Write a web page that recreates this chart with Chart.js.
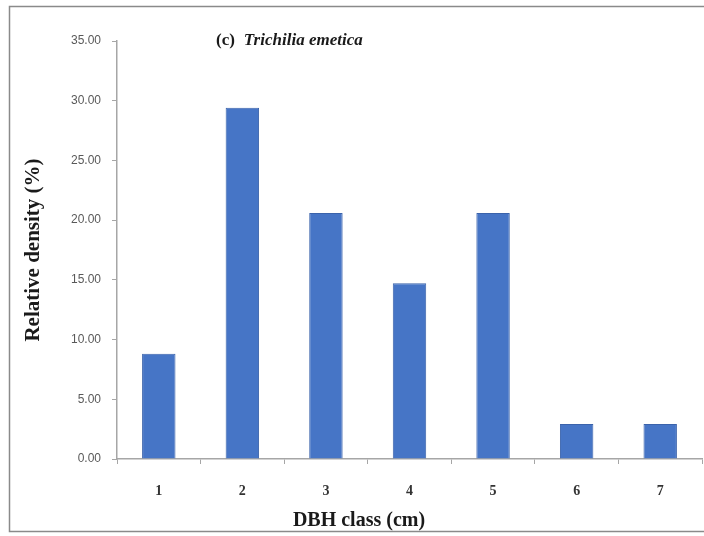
<!DOCTYPE html>
<html>
<head>
<meta charset="utf-8">
<script src="https://cdn.jsdelivr.net/npm/chart.js@4/dist/chart.umd.min.js"></script>
<style>
  html, body { margin: 0; padding: 0; background: #fff; }
  #wrap { width: 704px; height: 536px; position: relative; }
</style>
</head>
<body>
<div id="wrap"><canvas id="myChart" width="704" height="536"></canvas></div>
<script>
// DBH classes and relative density (%) for Trichilia emetica
const categories = ["1", "2", "3", "4", "5", "6", "7"];
const density = [8.82, 29.41, 20.59, 14.71, 20.59, 2.94, 2.94];
const yTicks = [0, 5, 10, 15, 20, 25, 30, 35];

const panelTitle = { tag: "(c)", species: "Trichilia emetica" };
const xTitle = "DBH class (cm)";
const yTitle = "Relative density (%)";

// frame, panel title and x-axis title drawn on the canvas
const extras = {
    id: "extras",
    afterDraw(chart) {
        const ctx = chart.ctx;
        ctx.save();
        ctx.strokeStyle = "#8a8a8a";
        ctx.lineWidth = 1.5;
        ctx.beginPath();
        ctx.moveTo(704, 6.5);
        ctx.lineTo(9.5, 6.5);
        ctx.lineTo(9.5, 531.5);
        ctx.lineTo(704, 531.5);
        ctx.stroke();

        ctx.fillStyle = "#1a1a1a";
        ctx.textBaseline = "middle";
        ctx.textAlign = "left";
        ctx.font = "bold 17px 'Liberation Serif'";
        ctx.fillText(panelTitle.tag, 216, 41);
        let w = ctx.measureText(panelTitle.tag).width;
        ctx.font = "italic bold 17px 'Liberation Serif'";
        ctx.fillText(panelTitle.species, 216 + w + 9, 41);

        ctx.textAlign = "center";
        ctx.font = "bold 20px 'Liberation Serif'";
        ctx.fillText(xTitle, 359, 521);
        ctx.restore();
    }
};

const ctx = document.getElementById("myChart");
new Chart(ctx, {
    type: "bar",
    data: {
        labels: categories,
        datasets: [{
            label: "Relative density",
            data: density,
            backgroundColor: "#4675c6",
            borderColor: "#3b63ab",
            borderWidth: 1,
            barPercentage: 0.8,
            categoryPercentage: 0.5
        }]
    },
    options: {
        responsive: false,
        animation: false,
        layout: { padding: { top: 41, left: 21, right: 2, bottom: 0 } },
        plugins: {
            legend: { display: false },
            tooltip: { enabled: false }
        },
        scales: {
            x: {
                grid: { drawOnChartArea: false, color: "#a6a6a6", tickLength: 5 },
                border: { color: "#a6a6a6", width: 1.5 },
                ticks: {
                    color: "#333",
                    font: { family: "'Liberation Serif'", size: 14, weight: "bold" },
                    padding: 19
                },
                afterFit(s) { s.height = 536 - 459; }
            },
            y: {
                min: 0,
                max: 35,
                afterBuildTicks(s) { s.ticks = yTicks.map(v => ({ value: v })); },
                grid: { drawOnChartArea: false, color: "#a6a6a6", tickLength: 5 },
                border: { color: "#a6a6a6", width: 1.5 },
                ticks: {
                    color: "#595959",
                    font: { family: "'Liberation Sans'", size: 12 },
                    padding: 11,
                    callback: v => v.toFixed(2)
                },
                title: {
                    display: true,
                    text: yTitle,
                    color: "#1a1a1a",
                    font: { family: "'Liberation Serif'", size: 21, weight: "bold" },
                    padding: { top: 0, bottom: 0 }
                },
                afterFit(s) { s.width = 117 - 21; }
            }
        }
    },
    plugins: [extras]
});
</script>
</body>
</html>
